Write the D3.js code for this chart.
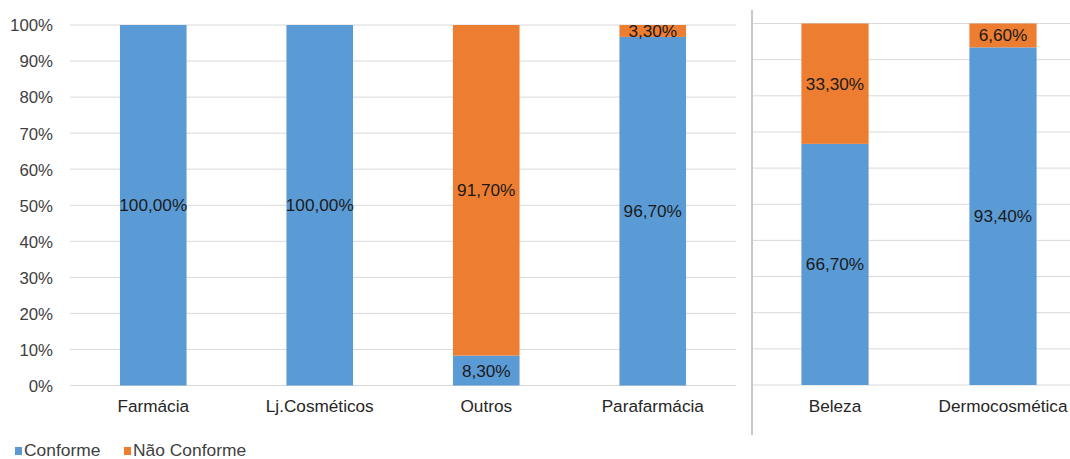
<!DOCTYPE html>
<html>
<head>
<meta charset="utf-8">
<script src="https://cdn.jsdelivr.net/npm/d3@7"></script>
<style>
  html, body { margin: 0; padding: 0; background: #fff; }
  svg { display: block; font-family: "Liberation Sans", Arial, sans-serif; }
</style>
</head>
<body>
<svg id="chart" width="1070" height="459"></svg>
<script>
// Store types, split into two panels
const leftCategories = ["Farmácia", "Lj.Cosméticos", "Outros", "Parafarmácia"];
const rightCategories = ["Beleza", "Dermocosmética"];

// Share of each store type (%)
const leftConforme = [100.0, 100.0, 8.3, 96.7];
const leftNaoConforme = [0.0, 0.0, 91.7, 3.3];
const rightConforme = [66.7, 93.4];
const rightNaoConforme = [33.3, 6.6];

const seriesNames = ["Conforme", "Não Conforme"];
const yTicks = [0, 10, 20, 30, 40, 50, 60, 70, 80, 90, 100];

const colors = { "Conforme": "#5B9BD5", "Não Conforme": "#ED7D31" };
const fmt = v => v.toFixed(2).replace(".", ",") + "%";

const svg = d3.select("#chart");

function drawPanel(cfg) {
  const { categories, conforme, naoConforme, x0, x1, yTop, yBottom, showAxis } = cfg;
  const g = svg.append("g");

  const x = d3.scaleBand().domain(categories).range([x0, x1])
    .paddingInner(0.6).paddingOuter(0.3);
  const y = d3.scaleLinear().domain([0, 100]).range([yBottom, yTop]);

  // horizontal gridlines
  g.selectAll("line.grid").data(yTicks).join("line")
    .attr("class", "grid")
    .attr("x1", x0).attr("x2", x1)
    .attr("y1", d => y(d)).attr("y2", d => y(d))
    .attr("stroke", "#d9d9d9").attr("stroke-width", 1);

  if (showAxis) {
    const axis = d3.axisLeft(y).tickValues(yTicks).tickSize(0).tickPadding(0)
      .tickFormat(d => d + "%");
    const ag = g.append("g").attr("transform", `translate(${x0 - 17},0)`).call(axis);
    ag.select(".domain").remove();
    ag.selectAll("text")
      .attr("font-size", 16.8).attr("fill", "#404040")
      .attr("font-family", "'Liberation Sans', Arial, sans-serif")
      .attr("dy", "0.35em");
  }

  const rows = categories.map((c, i) => ({
    cat: c, "Conforme": conforme[i], "Não Conforme": naoConforme[i]
  }));
  const stacked = d3.stack().keys(seriesNames)(rows);

  stacked.forEach(layer => {
    const key = layer.key;
    g.selectAll(null).data(layer).join("rect")
      .attr("x", d => x(d.data.cat))
      .attr("width", x.bandwidth())
      .attr("y", d => y(d[1]))
      .attr("height", d => y(d[0]) - y(d[1]))
      .attr("fill", colors[key]);

    g.selectAll(null).data(layer.filter(d => d.data[key] > 0)).join("text")
      .attr("x", d => x(d.data.cat) + x.bandwidth() / 2)
      .attr("y", d => y((d[0] + d[1]) / 2))
      .attr("dy", "0.35em")
      .attr("text-anchor", "middle")
      .attr("font-size", 17.2)
      .attr("fill", "#1a1a1a")
      .text(d => fmt(d.data[key]));
  });

  // category labels
  g.selectAll(null).data(categories).join("text")
    .attr("x", d => x(d) + x.bandwidth() / 2)
    .attr("y", 412)
    .attr("text-anchor", "middle")
    .attr("font-size", 17.2)
    .attr("fill", "#262626")
    .text(d => d);
}

drawPanel({
  categories: leftCategories, conforme: leftConforme, naoConforme: leftNaoConforme,
  x0: 70, x1: 736, yTop: 25, yBottom: 385.5, showAxis: true
});

drawPanel({
  categories: rightCategories, conforme: rightConforme, naoConforme: rightNaoConforme,
  x0: 751, x1: 1087, yTop: 23.5, yBottom: 385, showAxis: false
});

// divider between panels
svg.append("line")
  .attr("x1", 752).attr("x2", 752).attr("y1", 10).attr("y2", 435)
  .attr("stroke", "#c8c8c8").attr("stroke-width", 2);

// legend
const legendX = [15, 124];
const legend = svg.append("g");
seriesNames.forEach((name, i) => {
  legend.append("rect")
    .attr("x", legendX[i]).attr("y", 447).attr("width", 7).attr("height", 8)
    .attr("fill", colors[name]);
  legend.append("text")
    .attr("x", legendX[i] + 9).attr("y", 455.5)
    .attr("font-size", 17.4).attr("fill", "#404040")
    .text(name);
});
</script>
</body>
</html>
